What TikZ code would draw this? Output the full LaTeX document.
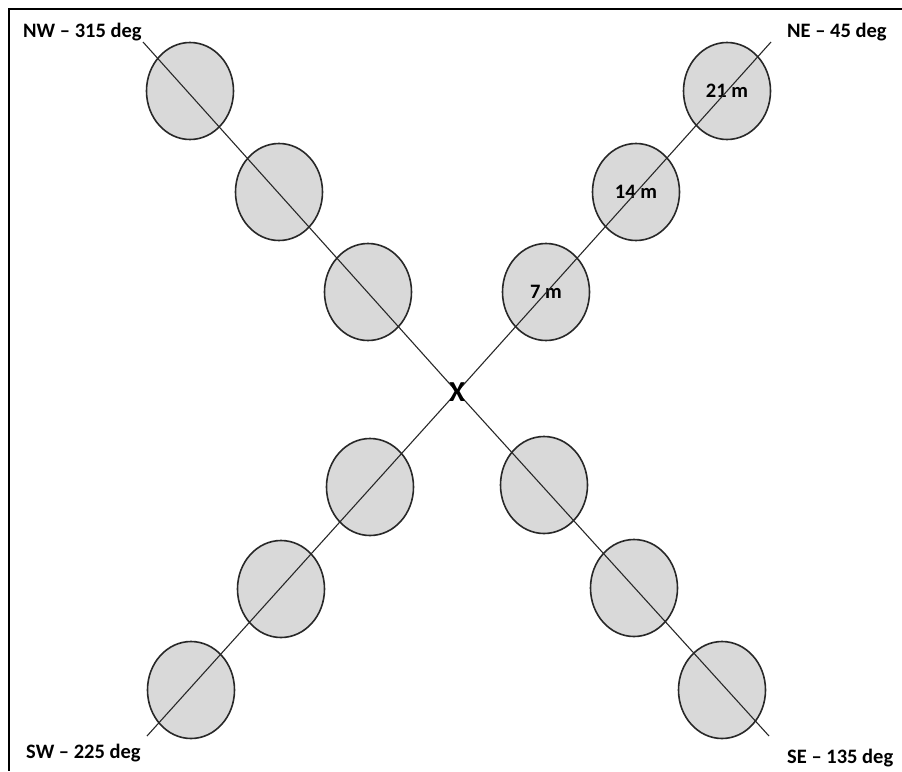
\documentclass[tikz,border=0pt]{standalone}
\usepackage{fontspec}
\setmainfont{Carlito}
\usetikzlibrary{shapes.geometric}

\definecolor{pitfill}{RGB}{217,217,217}
\definecolor{pitline}{RGB}{40,40,40}

\begin{document}
\begin{tikzpicture}[x=1pt,y=-1pt,
    pit/.style={ellipse, draw=pitline, line width=1.6pt, fill=pitfill,
      minimum width=87pt, minimum height=97pt, inner sep=0pt,
      font=\fontsize{20.5}{24}\selectfont\bfseries},
    ray/.style={pitline, line width=1.1pt},
    dirlabel/.style={anchor=base west, inner sep=0pt,
      font=\fontsize{20.5}{24}\selectfont\bfseries}]
            \useasboundingbox (0,0) rectangle (902,771);
            \draw[black, line width=1.8pt] (902,9) -- (9,9) -- (9,771);

            % north-east
            \node[pit] (ne1) at (546,292) {7 m};
            \node[pit] (ne2) at (636,192) {14 m};
            \node[pit] (ne3) at (727,91) {21 m};
            % north-west
            \node[pit] (nw1) at (368,292) {};
            \node[pit] (nw2) at (279,192) {};
            \node[pit] (nw3) at (190,91) {};
            % south-west
            \node[pit] (sw1) at (370,487) {};
            \node[pit] (sw2) at (281,589) {};
            \node[pit] (sw3) at (191,690) {};
            % south-east
            \node[pit] (se1) at (544,485) {};
            \node[pit] (se2) at (634,588) {};
            \node[pit] (se3) at (722,690) {};

            \coordinate (centre) at (457,392);
            \coordinate (neend) at (771,42);
            \coordinate (nwend) at (143,42);
            \coordinate (swend) at (147,736);
            \coordinate (seend) at (769,736);

            \draw[ray] (centre) -- (neend);
            \draw[ray] (centre) -- (nwend);
            \draw[ray] (centre) -- (swend);
            \draw[ray] (centre) -- (seend);
            \node[inner sep=0pt, font=\fontsize{29}{32}\selectfont\bfseries] (x) at (centre) {X};

            \node[dirlabel] (nwlabel) at (23,37) {NW -- 315 deg};
            \node[dirlabel] (nelabel) at (787,37) {NE -- 45 deg};
            \node[dirlabel] (swlabel) at (26,758) {SW -- 225 deg};
            \node[dirlabel] (selabel) at (787,763) {SE -- 135 deg};
\end{tikzpicture}
\end{document}
